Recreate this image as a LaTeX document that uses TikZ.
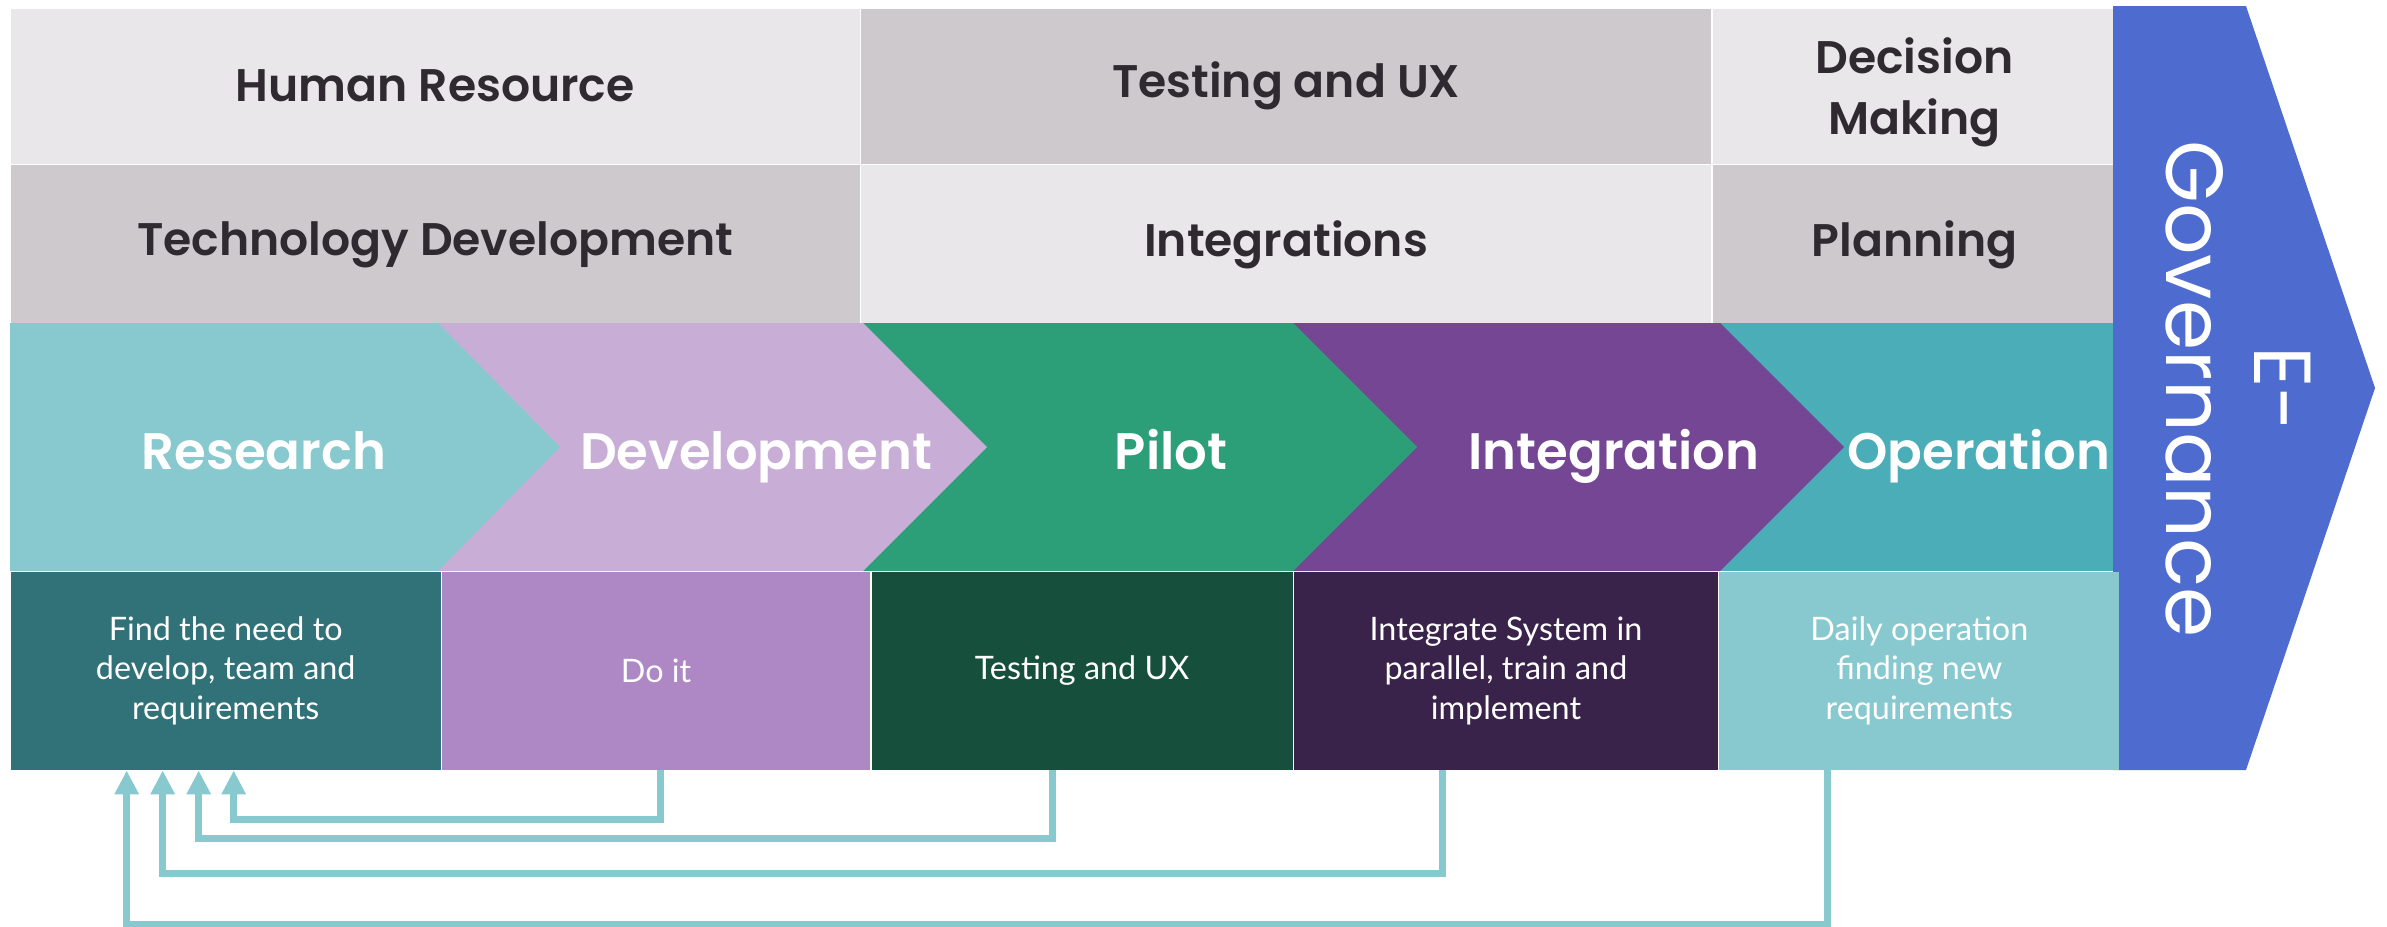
\documentclass[tikz,border=0pt]{standalone}
\usepackage{fontspec}
\setmainfont{Poppins}[BoldFont={Poppins SemiBold}]
\newfontfamily\latofont{Lato}
\usepackage{tikz}
\usetikzlibrary{arrows.meta, positioning}

\definecolor{hdrlight}{HTML}{E9E7EA}
\definecolor{hdrdark}{HTML}{CDC9CC}
\definecolor{hdrtext}{HTML}{2E2A2F}
\definecolor{researchfill}{HTML}{87C9CE}
\definecolor{researchbox}{HTML}{317278}
\definecolor{devfill}{HTML}{C8AED6}
\definecolor{devbox}{HTML}{AD88C5}
\definecolor{pilotfill}{HTML}{2C9F78}
\definecolor{pilotbox}{HTML}{174F3D}
\definecolor{integfill}{HTML}{744694}
\definecolor{integbox}{HTML}{39234A}
\definecolor{operfill}{HTML}{4AADB8}
\definecolor{operbox}{HTML}{87C9CE}
\definecolor{egovfill}{HTML}{4E6BCF}
\definecolor{loopteal}{HTML}{87C9CE}

\begin{document}
\begin{tikzpicture}[
    % Styles
    band/.style={inner sep=0pt, anchor=north west, align=center, text=hdrtext,
        font=\fontsize{13}{17.5}\selectfont\bfseries},
    lightband/.style={band, fill=hdrlight},
    darkband/.style={band, fill=hdrdark},
    steplabel/.style={anchor=base, inner sep=0pt, text=white, font=\fontsize{14.6}{18}\selectfont\bfseries},
    notebox/.style={inner sep=0pt, anchor=north west, minimum height=1.98cm, align=center,
        text=white, font=\latofont\fontsize{9.2}{11.2}\selectfont},
    feedback/.style={draw=loopteal, line width=2pt, -{Triangle[length=0.24cm, width=0.23cm]}},
]
    \useasboundingbox (0,0) rectangle (23.87,-9.26);

    % Top band: areas of work
    \node[lightband, minimum width=8.49cm, minimum height=1.55cm] (hr) at (0.10,-0.08) {Human Resource};
    \node[darkband, minimum width=8.50cm, minimum height=1.55cm] (testux) at (hr.north east) {Testing and UX};
    \node[lightband, minimum width=4.04cm, minimum height=1.55cm, text depth=0pt] (decision) at (testux.north east) {Decision\\Making};

    % Second band
    \node[darkband, minimum width=8.49cm, minimum height=1.60cm] (techdev) at (hr.south west) {Technology Development};
    \node[lightband, minimum width=8.50cm, minimum height=1.60cm] (integrations) at (techdev.north east) {Integrations};
    \node[darkband, minimum width=4.04cm, minimum height=1.60cm] (planning) at (integrations.north east) {Planning};

    % E-Governance arrow
    \fill[egovfill] (21.13,-0.06) -- (22.46,-0.06) -- (23.75,-3.88) -- (22.46,-7.70) -- (21.13,-7.70) -- cycle;
    \node[rotate=-90, align=center, text=white, inner sep=0pt,
          font=\fontsize{23}{25}\selectfont] (egov) at (22.38,-3.89) {E-\\Governance};

    % Chevrons, drawn right to left so each tip lies on the next one
    \fill[operfill] (17.20,-3.23) rectangle (21.13,-5.71);
    \fill[integfill] (12.93,-3.23) -- (17.20,-3.23) -- (18.44,-4.47) -- (17.20,-5.71) -- (12.93,-5.71) -- cycle;
    \fill[pilotfill] (8.63,-3.23) -- (12.93,-3.23) -- (14.17,-4.47) -- (12.93,-5.71) -- (8.63,-5.71) -- cycle;
    \fill[devfill] (4.38,-3.23) -- (8.63,-3.23) -- (9.87,-4.47) -- (8.63,-5.71) -- (4.38,-5.71) -- cycle;
    \fill[researchfill] (0.10,-3.23) -- (4.38,-3.23) -- (5.60,-4.47) -- (4.38,-5.71) -- (0.10,-5.71) -- cycle;

    \node[steplabel] (research) at (2.64,-4.69) {Research};
    \node[steplabel] (development) at (7.56,-4.69) {Development};
    \node[steplabel] (pilot) at (11.71,-4.69) {Pilot};
    \node[steplabel] (integration) at (16.14,-4.69) {Integration};
    \node[steplabel] (operation) at (19.79,-4.69) {Operation};

    % What happens in each step
    \node[notebox, fill=researchbox, minimum width=4.30cm] (findneed) at (0.10,-5.71) {Find the need to\\develop, team and\\requirements};
    \node[notebox, fill=devbox, minimum width=4.28cm] (doit) at (findneed.north east) {Do it};
    \node[notebox, fill=pilotbox, minimum width=4.21cm] (testing) at (doit.north east) {Testing and UX};
    \node[notebox, fill=integbox, minimum width=4.24cm] (integrate) at (testing.north east) {Integrate System in\\parallel, train and\\implement};
    \node[notebox, fill=operbox, minimum width=4.00cm] (daily) at (integrate.north east) {Daily operation\\finding new\\requirements};

    % Feedback loops back to research
    \draw[feedback] ([xshift=0.04cm]doit.south) -- ++(0,-0.49) -| ([xshift=0.08cm]findneed.south);
    \draw[feedback] ([xshift=-0.295cm]testing.south) -- ++(0,-0.68) -| ([xshift=-0.27cm]findneed.south);
    \draw[feedback] ([xshift=-0.63cm]integrate.south) -- ++(0,-1.03) -| ([xshift=-0.63cm]findneed.south);
    \draw[feedback] ([xshift=-0.92cm]daily.south) -- ++(0,-1.54) -| ([xshift=-0.99cm]findneed.south);

\end{tikzpicture}
\end{document}
